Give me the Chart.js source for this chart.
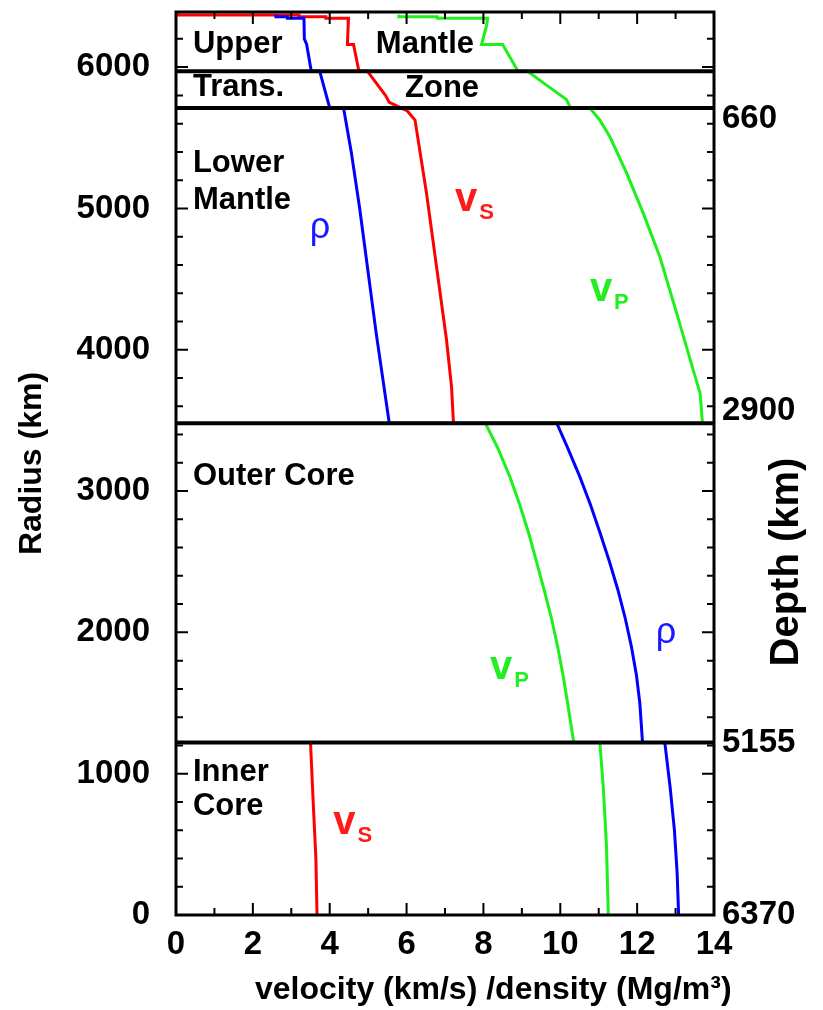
<!DOCTYPE html>
<html>
<head>
<meta charset="utf-8">
<script src="https://cdn.jsdelivr.net/npm/chart.js@4.4.1/dist/chart.umd.min.js"></script>
<style>
html,body{margin:0;padding:0;background:#ffffff;}
#wrap{width:823px;height:1010px;position:relative;}
</style>
</head>
<body>
<div id="wrap"><canvas id="c" width="823" height="1010"></canvas></div>
<script>
// ---------------- data ----------------
// P-wave velocity, km/s
const vpRadius = [6371, 6356, 6356, 6346.6, 6346.6, 6291, 6160, 6160, 5971, 5971,
                  5871, 5771, 5711, 5711, 5625, 5507, 5248, 4965, 4658, 4257,
                  3856, 3691, 3480, 3480, 3300, 3100, 2900, 2700, 2500, 2300,
                  2100, 1900, 1700, 1500, 1221, 1221, 900, 500, 0];
const vpValues = [5.80, 5.80, 6.80, 6.80, 8.11, 8.08, 7.95, 8.50, 8.90, 9.15,
                  9.65, 10.16, 10.27, 10.77, 11.03, 11.29, 11.73, 12.16, 12.59, 13.03,
                  13.46, 13.64, 13.70, 8.05, 8.38, 8.69, 8.95, 9.18, 9.38, 9.58,
                  9.77, 9.93, 10.07, 10.19, 10.35, 11.03, 11.12, 11.20, 11.25];
// S-wave velocity, km/s (no shear waves in the outer core -> gap)
const vsRadius = [6371, 6368, 6368, 6356, 6356, 6346.6, 6346.6, 6291, 6160, 6160,
                  5971, 5971, 5800, 5750, 5690, 5625, 5106, 4587, 4069, 3738,
                  3480, null, 1221, 800, 400, 0];
const vsValues = [0, 0, 3.2, 3.2, 3.9, 3.9, 4.49, 4.48, 4.46, 4.62,
                  4.76, 4.98, 5.45, 5.55, 6.02, 6.22, 6.52, 6.78, 7.04, 7.17,
                  7.22, null, 3.50, 3.57, 3.64, 3.67];
// density, Mg/m^3
const rhoRadius = [6371, 6356, 6356, 6346.6, 6346.6, 6200, 6160, 5971, 5971, 5711,
                   5711, 5400, 5000, 4116, 3480, 3480, 3300, 3100, 2900, 2700,
                   2500, 2300, 2100, 1900, 1700, 1500, 1221, 1221, 900, 600,
                   300, 0];
const rhoValues = [2.60, 2.60, 2.90, 2.90, 3.33, 3.34, 3.40, 3.52, 3.74, 4.00,
                   4.36, 4.56, 4.78, 5.21, 5.55, 9.91, 10.20, 10.51, 10.79, 11.04,
                   11.28, 11.50, 11.69, 11.85, 11.98, 12.07, 12.14, 12.72, 12.86, 12.97,
                   13.04, 13.08];
// layer boundaries (radius, km)
const boundaryRadii = [5971, 5711, 3480, 1221];
// tick labels
const radiusTicks = [0, 1000, 2000, 3000, 4000, 5000, 6000];
const depthTicks = [660, 2900, 5155, 6370];
const velocityTicks = [0, 2, 4, 6, 8, 10, 12, 14];
const earthRadius = 6371;
const radiusMax = 6390;

// where each depth label sits relative to its line
const depthLabelPlacement = ['below', 'above', 'center', 'center'];

// region names
const regionLabels = [
  {text: 'Upper',      x: 0.44, r: 6163},
  {text: 'Mantle',     x: 5.20, r: 6163},
  {text: 'Trans.',     x: 0.44, r: 5859},
  {text: 'Zone',       x: 5.96, r: 5851},
  {text: 'Lower',      x: 0.44, r: 5321},
  {text: 'Mantle',     x: 0.44, r: 5059},
  {text: 'Outer Core', x: 0.44, r: 3106},
  {text: 'Inner',      x: 0.44, r: 1012},
  {text: 'Core',       x: 0.44, r: 771}
];
// curve labels
const curveLabels = [
  {main: 'ρ', sub: '',  x: 3.75,  r: 4861, color: '#1a1aff'},
  {main: 'v', sub: 'S', x: 7.26,  r: 5059, color: '#ff1a1a'},
  {main: 'v', sub: 'P', x: 10.77, r: 4422, color: '#22ee22'},
  {main: 'v', sub: 'P', x: 8.17,  r: 1748, color: '#22ee22'},
  {main: 'ρ', sub: '',  x: 12.75, r: 1995, color: '#1a1aff'},
  {main: 'v', sub: 'S', x: 4.09,  r: 651,  color: '#ff1a1a'}
];

function toPoints(radii, values) {
  return radii.map((r, i) => ({x: values[i], y: r}));
}

const FONT = "'Liberation Sans', Arial, Helvetica, sans-serif";
const TICK_SIZE = 33;

const decor = {
  id: 'decor',
  afterDatasetsDraw(chart) {
    const {ctx, chartArea: a, scales} = chart;
    const x = scales.x, y = scales.y, d = scales.depth;
    ctx.save();
    ctx.strokeStyle = '#000';
    ctx.lineCap = 'butt';
    // boundaries
    ctx.lineWidth = 4;
    boundaryRadii.forEach(r => {
      const py = y.getPixelForValue(r);
      ctx.beginPath(); ctx.moveTo(a.left, py); ctx.lineTo(a.right, py); ctx.stroke();
    });
    // inward tick marks (major at labelled values, minor between)
    ctx.lineWidth = 2;
    for (let v = x.min; v <= x.max; v += 1) {
      const px = x.getPixelForValue(v);
      const len = velocityTicks.includes(v) ? 12 : 7;
      ctx.beginPath();
      ctx.moveTo(px, a.bottom); ctx.lineTo(px, a.bottom - len);
      ctx.moveTo(px, a.top); ctx.lineTo(px, a.top + len);
      ctx.stroke();
    }
    for (let r = 200; r < y.max; r += 200) {
      const py = y.getPixelForValue(r);
      const len = radiusTicks.includes(r) ? 12 : 7;
      ctx.beginPath();
      ctx.moveTo(a.left, py); ctx.lineTo(a.left + len, py);
      ctx.moveTo(a.right, py); ctx.lineTo(a.right - len, py);
      ctx.stroke();
    }
    // frame
    ctx.lineWidth = 3;
    ctx.strokeRect(a.left, a.top, a.right - a.left, a.bottom - a.top);

    // region labels
    ctx.fillStyle = '#000';
    ctx.font = 'bold 31px ' + FONT;
    ctx.textAlign = 'left';
    ctx.textBaseline = 'middle';
    regionLabels.forEach(l => {
      ctx.fillText(l.text, x.getPixelForValue(l.x), y.getPixelForValue(l.r));
    });
    // curve labels
    curveLabels.forEach(l => {
      const px = x.getPixelForValue(l.x), py = y.getPixelForValue(l.r);
      ctx.fillStyle = l.color;
      ctx.textBaseline = 'middle';
      if (l.sub) {
        ctx.font = 'bold 40px ' + FONT;
        ctx.textAlign = 'left';
        ctx.fillText(l.main, px, py);
        const w = ctx.measureText(l.main).width;
        ctx.font = 'bold 22px ' + FONT;
        ctx.fillText(l.sub, px + w + 2, py + 13);
      } else {
        ctx.font = '36px ' + FONT;
        ctx.textAlign = 'center';
        ctx.fillText(l.main, px, py);
      }
    });
    ctx.restore();
  },
  afterDraw(chart) {
    const {ctx, chartArea: a, scales} = chart;
    const d = scales.depth;
    ctx.save();
    ctx.fillStyle = '#000';
    // depth labels on the right axis
    ctx.font = 'bold ' + TICK_SIZE + 'px ' + FONT;
    ctx.textAlign = 'left';
    ctx.textBaseline = 'middle';
    depthTicks.forEach((v, i) => {
      const py = d.getPixelForValue(v);
      const p = depthLabelPlacement[i];
      const shift = p === 'below' ? 0.32 * TICK_SIZE : p === 'above' ? -0.4 * TICK_SIZE : 0;
      ctx.fillText(String(v), a.right + 8, py + shift);
    });
    // bottom axis title
    ctx.font = 'bold 32px ' + FONT;
    ctx.fillText('velocity (km/s) /density (Mg/m³)', 255, 990);
    // right axis title
    ctx.translate(787, 562);
    ctx.rotate(-Math.PI / 2);
    ctx.font = 'bold 40px ' + FONT;
    ctx.textAlign = 'center';
    ctx.fillText('Depth (km)', 0, 0);
    ctx.restore();
  }
};

const tickFont = {family: FONT, size: TICK_SIZE, weight: 'bold'};
const plain = v => String(v);

new Chart(document.getElementById('c').getContext('2d'), {
  type: 'scatter',
  data: {
    datasets: [
      {label: 'rho', data: toPoints(rhoRadius, rhoValues), borderColor: '#0000ff', backgroundColor: '#0000ff'},
      {label: 'vs',  data: toPoints(vsRadius, vsValues),   borderColor: '#ff0000', backgroundColor: '#ff0000'},
      {label: 'vp',  data: toPoints(vpRadius, vpValues),   borderColor: '#1ef01e', backgroundColor: '#1ef01e'}
    ].map(d => Object.assign(d, {showLine: true, borderWidth: 3, pointRadius: 0, spanGaps: false, tension: 0, fill: false}))
  },
  options: {
    responsive: false,
    animation: false,
    devicePixelRatio: 1,
    layout: {padding: {top: 12, left: 0, right: 0, bottom: 0}},
    plugins: {legend: {display: false}, tooltip: {enabled: false}},
    scales: {
      x: {
        type: 'linear', position: 'bottom', min: 0, max: 14,
        afterBuildTicks: s => { s.ticks = velocityTicks.map(v => ({value: v})); },
        ticks: {font: tickFont, color: '#000', padding: 10, maxRotation: 0, callback: plain},
        grid: {display: false, drawTicks: false},
        border: {display: false},
        afterFit: s => { s.height = 95; s.paddingLeft = 0; s.paddingRight = 0; }
      },
      y: {
        type: 'linear', position: 'left', min: 0, max: radiusMax,
        afterBuildTicks: s => { s.ticks = radiusTicks.map(v => ({value: v})); },
        ticks: {font: tickFont, color: '#000', padding: 26, callback: plain},
        grid: {display: false, drawTicks: false},
        border: {display: false},
        title: {display: true, text: 'Radius (km)', color: '#000',
                font: {family: FONT, size: 32, weight: 'bold'}, padding: {top: 13, bottom: 0}},
        afterFit: s => { s.width = 176; s.paddingTop = 0; s.paddingBottom = 0; }
      },
      depth: {
        type: 'linear', position: 'right', reverse: true,
        min: earthRadius - radiusMax, max: earthRadius,
        afterBuildTicks: s => { s.ticks = depthTicks.map(v => ({value: v})); },
        ticks: {display: false},
        grid: {display: false, drawTicks: false},
        border: {display: false},
        afterFit: s => { s.width = 109; s.paddingTop = 0; s.paddingBottom = 0; }
      }
    }
  },
  plugins: [decor]
});
</script>
</body>
</html>
